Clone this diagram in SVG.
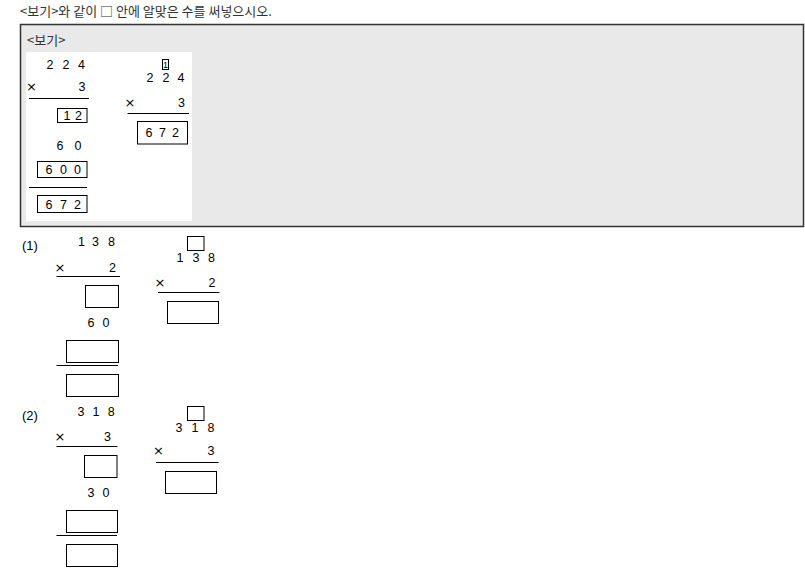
<svg xmlns="http://www.w3.org/2000/svg" width="805" height="570" viewBox="0 0 805 570">
<style>
.title{font-family:"Noto Sans CJK KR","Noto Sans",sans-serif;font-size:13px;fill:#333}
.d{font-family:"Liberation Sans",Arial,sans-serif;font-size:12.5px;fill:#000;text-anchor:middle}
.x{font-family:"DejaVu Sans",sans-serif;font-size:13px;fill:#000;text-anchor:middle}
.lab{font-family:"Liberation Sans",Arial,sans-serif;font-size:13px;fill:#000}
.sm{font-family:"Liberation Sans",Arial,sans-serif;font-size:9px;fill:#000;text-anchor:middle}
.box{fill:none;stroke:#000;stroke-width:1}
.ln{stroke:#000;stroke-width:1}
</style>
<rect width="805" height="570" fill="#fff"/>
<text class="title" x="20" y="16">&lt;보기&gt;와 같이 □ 안에 알맞은 수를 써넣으시오.</text>

<g id="example">
<rect x="20.5" y="24.5" width="783" height="202" fill="#e9e9e9" stroke="#333" stroke-width="1.5"/>
<text class="title" x="27" y="45">&lt;보기&gt;</text>
<rect x="26" y="52" width="166" height="169" fill="#fff"/>
<g id="ex-left">
<text class="d" x="50" y="69">2</text><text class="d" x="66" y="69">2</text><text class="d" x="81.5" y="69">4</text>
<text class="x" x="31.5" y="91">×</text><text class="d" x="82" y="91">3</text>
<line class="ln" x1="29" y1="98.5" x2="89" y2="98.5"/>
<rect class="box" x="57.5" y="108.5" width="29.5" height="14"/>
<text class="d" x="67" y="119.5">1</text><text class="d" x="78.5" y="119.5">2</text>
<text class="d" x="60" y="150">6</text><text class="d" x="78" y="150">0</text>
<rect class="box" x="37.5" y="161.5" width="49.5" height="16"/>
<text class="d" x="49" y="174">6</text><text class="d" x="63.5" y="174">0</text><text class="d" x="77.5" y="174">0</text>
<line class="ln" x1="29" y1="187.5" x2="87" y2="187.5"/>
<rect class="box" x="37.5" y="195.5" width="49.5" height="17"/>
<text class="d" x="49" y="209">6</text><text class="d" x="63.5" y="209">7</text><text class="d" x="77.5" y="209">2</text>
</g>
<g id="ex-right">
<rect class="box" x="162.5" y="59.5" width="6" height="10"/>
<text class="sm" x="165.5" y="68">1</text>
<text class="d" x="150" y="82">2</text><text class="d" x="166" y="82">2</text><text class="d" x="181" y="82">4</text>
<text class="x" x="130" y="107">×</text><text class="d" x="181.5" y="107">3</text>
<line class="ln" x1="127.5" y1="113.5" x2="189" y2="113.5"/>
<rect class="box" x="137.5" y="121.5" width="50" height="22.5"/>
<text class="d" x="149" y="137">6</text><text class="d" x="162.5" y="137">7</text><text class="d" x="175.5" y="137">2</text>
</g>
</g>

<g id="q1">
<text class="lab" x="22" y="250">(1)</text>
<g id="q1-left">
<text class="d" x="81.5" y="246">1</text><text class="d" x="95.5" y="246">3</text><text class="d" x="111.5" y="246">8</text>
<text class="x" x="60" y="271.5">×</text><text class="d" x="112.5" y="271.5">2</text>
<line class="ln" x1="56.5" y1="276.5" x2="120" y2="276.5"/>
<rect class="box" x="85.5" y="285.5" width="33" height="22"/>
<text class="d" x="91" y="327">6</text><text class="d" x="106" y="327">0</text>
<rect class="box" x="66.5" y="340.5" width="52" height="22"/>
<line class="ln" x1="56.5" y1="365.5" x2="118" y2="365.5"/>
<rect class="box" x="66.5" y="374.5" width="52" height="22"/>
</g>
<g id="q1-right">
<rect class="box" x="187.5" y="236.5" width="16.5" height="14"/>
<text class="d" x="180" y="262">1</text><text class="d" x="196" y="262">3</text><text class="d" x="211.5" y="262">8</text>
<text class="x" x="160" y="286.5">×</text><text class="d" x="212" y="286.5">2</text>
<line class="ln" x1="158" y1="292.5" x2="219.5" y2="292.5"/>
<rect class="box" x="167.5" y="301.5" width="51" height="22"/>
</g>
</g>

<g id="q2">
<text class="lab" x="22" y="420">(2)</text>
<g id="q2-left">
<text class="d" x="81" y="415.5">3</text><text class="d" x="96" y="415.5">1</text><text class="d" x="111.3" y="415.5">8</text>
<text class="x" x="60" y="441">×</text><text class="d" x="107.5" y="441">3</text>
<line class="ln" x1="56.5" y1="446.5" x2="117.5" y2="446.5"/>
<rect class="box" x="84.5" y="455.5" width="32.5" height="22"/>
<text class="d" x="91" y="496.5">3</text><text class="d" x="106" y="496.5">0</text>
<rect class="box" x="66.5" y="510.5" width="51" height="22"/>
<line class="ln" x1="56.5" y1="535.5" x2="117" y2="535.5"/>
<rect class="box" x="66.5" y="544.5" width="51" height="22"/>
</g>
<g id="q2-right">
<rect class="box" x="187.5" y="406.5" width="16.5" height="14"/>
<text class="d" x="179" y="432">3</text><text class="d" x="195" y="432">1</text><text class="d" x="211" y="432">8</text>
<text class="x" x="158.5" y="455">×</text><text class="d" x="211" y="455">3</text>
<line class="ln" x1="156" y1="462.5" x2="218.5" y2="462.5"/>
<rect class="box" x="165.5" y="471.5" width="51" height="22"/>
</g>
</g>
<g id="connectors"/>
</svg>
